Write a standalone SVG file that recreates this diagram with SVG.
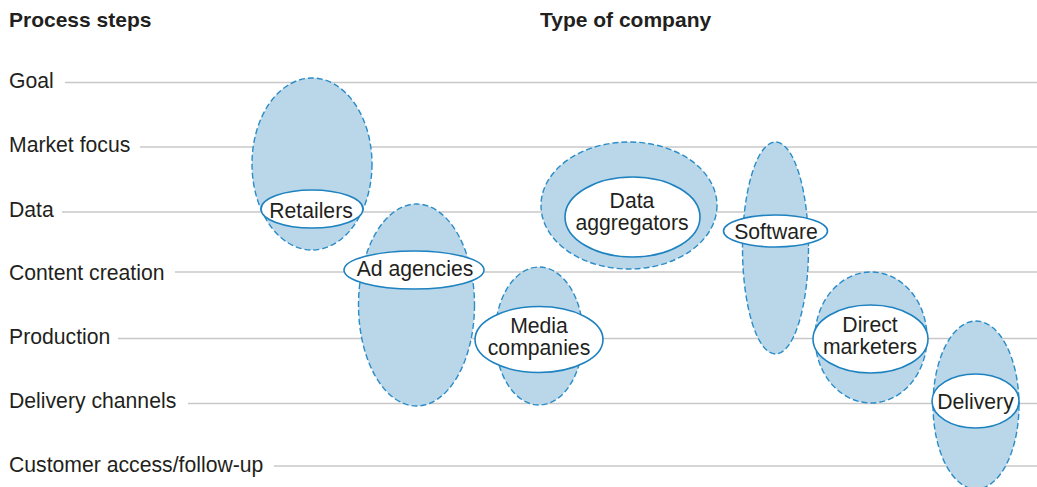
<svg xmlns="http://www.w3.org/2000/svg" width="1037" height="487" viewBox="0 0 1037 487">
<style>
.bg{fill:#ffffff}
.grid line{stroke:#c8c8c8;stroke-width:1.6}
.t{font-family:"Liberation Sans",Arial,sans-serif;font-size:21.2px;fill:#231f20}
.h{font-family:"Liberation Sans",Arial,sans-serif;font-size:21px;font-weight:bold;fill:#231f20}
.c{text-anchor:middle}
.big{fill:#b9d7e8;stroke:#2a8cc8;stroke-width:1.4;stroke-dasharray:6 3}
.lab{fill:#ffffff;stroke:#1f82c0;stroke-width:1.6}
</style>
<rect class="bg" x="0" y="0" width="1037" height="487"/>
<g id="headers">
<text class="h" x="9" y="27">Process steps</text>
<text class="h" x="540" y="27">Type of company</text>
</g>
<g id="steps">
<text class="t" x="9" y="88">Goal</text>
<text class="t" x="9" y="152">Market focus</text>
<text class="t" x="9" y="216.5">Data</text>
<text class="t" x="9" y="280">Content creation</text>
<text class="t" x="9" y="344">Production</text>
<text class="t" x="9" y="408">Delivery channels</text>
<text class="t" x="9" y="472">Customer access/follow-up</text>
</g>
<g id="connectors" class="grid">
<line x1="65" y1="82.5" x2="1037" y2="82.5"/>
<line x1="140" y1="147" x2="1037" y2="147"/>
<line x1="62" y1="212" x2="1037" y2="212"/>
<line x1="175" y1="272" x2="1037" y2="272"/>
<line x1="118" y1="338.5" x2="1037" y2="338.5"/>
<line x1="188" y1="403.5" x2="1037" y2="403.5"/>
<line x1="274" y1="466" x2="1037" y2="466"/>
</g>
<g id="retailers">
<ellipse class="big" cx="312" cy="164" rx="60" ry="86"/>
<ellipse class="lab" cx="312" cy="209" rx="51" ry="19"/>
<text class="t c" x="311" y="217.5">Retailers</text>
</g>
<g id="ad-agencies">
<ellipse class="big" cx="416.5" cy="305" rx="58" ry="101"/>
<ellipse class="lab" cx="414" cy="270" rx="70" ry="19"/>
<text class="t c" x="415" y="276">Ad agencies</text>
</g>
<g id="media-companies">
<ellipse class="big" cx="539" cy="336" rx="44" ry="69"/>
<ellipse class="lab" cx="539" cy="339.5" rx="64" ry="33"/>
<text class="t c" x="539" y="332.5">Media</text>
<text class="t c" x="539" y="354.5">companies</text>
</g>
<g id="data-aggregators">
<ellipse class="big" cx="629" cy="205.5" rx="88" ry="63.5"/>
<ellipse class="lab" cx="632.5" cy="217" rx="67.5" ry="40"/>
<text class="t c" x="632" y="208">Data</text>
<text class="t c" x="632" y="229.5">aggregators</text>
</g>
<g id="software">
<ellipse class="big" cx="775.5" cy="248" rx="33" ry="106"/>
<ellipse class="lab" cx="775.5" cy="231" rx="52" ry="16"/>
<text class="t c" x="776" y="238.5">Software</text>
</g>
<g id="direct-marketers">
<ellipse class="big" cx="871" cy="337.5" rx="56" ry="65.5"/>
<ellipse class="lab" cx="870.5" cy="339" rx="57.5" ry="34"/>
<text class="t c" x="870" y="332">Direct</text>
<text class="t c" x="870" y="353.5">marketers</text>
</g>
<g id="delivery">
<ellipse class="big" cx="976" cy="405" rx="43" ry="84"/>
<ellipse class="lab" cx="975.5" cy="401" rx="43.5" ry="27"/>
<text class="t c" x="975.5" y="408.5">Delivery</text>
</g>
</svg>
